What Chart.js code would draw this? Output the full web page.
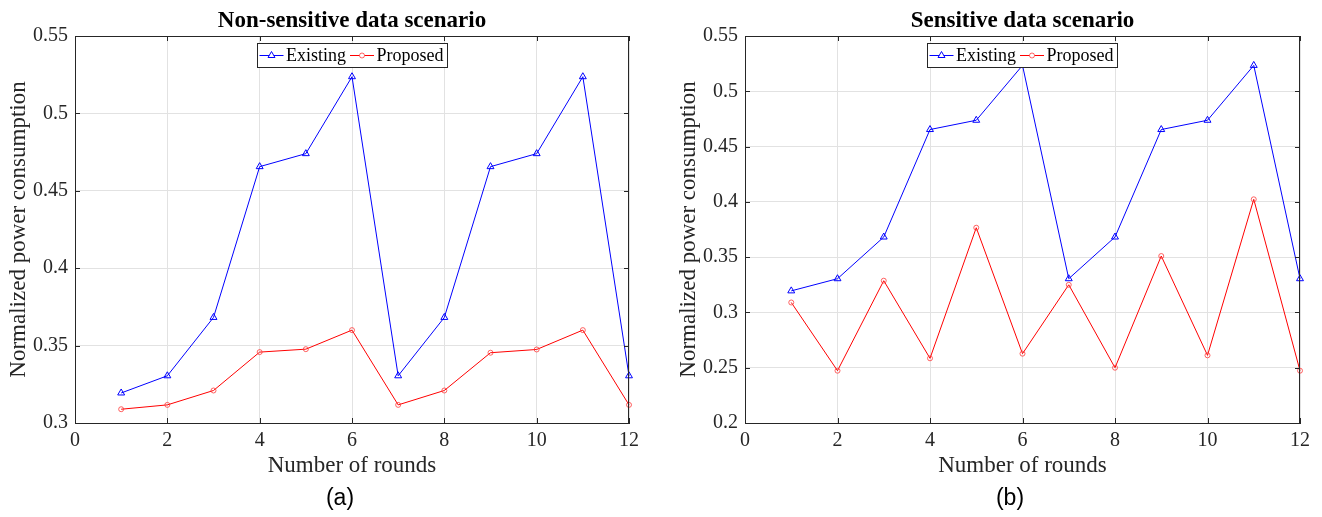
<!DOCTYPE html>
<html><head><meta charset="utf-8">
<script src="https://cdn.jsdelivr.net/npm/chart.js@4/dist/chart.umd.min.js"></script>
<style>
body{margin:0;background:#fff;width:1322px;height:517px;overflow:hidden;position:relative;}
.wrap{position:absolute;top:0;height:517px;}
.cap{position:absolute;top:484px;font-family:'Liberation Sans',Arial,sans-serif;font-size:23px;line-height:26px;color:#000;text-align:center;width:60px;}
</style></head><body>
<div class="wrap" style="left:0;width:660px"><canvas id="c1" width="660" height="517"></canvas></div>
<div class="wrap" style="left:670px;width:652px"><canvas id="c2" width="652" height="517"></canvas></div>
<div class="cap" style="left:310px">(a)</div>
<div class="cap" style="left:980px">(b)</div>
<script>
// ---- data ----
const rounds = [1,2,3,4,5,6,7,8,9,10,11,12];
const existingA = [0.3194,0.3305,0.3682,0.4656,0.4740,0.5237,0.3305,0.3682,0.4656,0.4740,0.5237,0.3305];
const proposedA = [0.3089,0.3117,0.3210,0.3458,0.3477,0.3600,0.3117,0.3210,0.3454,0.3475,0.3600,0.3117];
const existingB = [0.3195,0.3305,0.3682,0.4654,0.4738,0.5234,0.3305,0.3682,0.4654,0.4738,0.5234,0.3305];
const proposedB = [0.3090,0.2473,0.3287,0.2585,0.3766,0.2627,0.3250,0.2500,0.3510,0.2612,0.4023,0.2473];
const xTickVals = [0,2,4,6,8,10,12];
const yTickValsA = [0.3,0.35,0.4,0.45,0.5,0.55];
const yTickValsB = [0.2,0.25,0.3,0.35,0.4,0.45,0.5,0.55];
const titleA = 'Non-sensitive data scenario';
const titleB = 'Sensitive data scenario';
const xLabel = 'Number of rounds';
const yLabel = 'Normalized power consumption';
const seriesNames = ['Existing','Proposed'];

const SERIF = "'Liberation Serif','Times New Roman',serif";
const AXC = '#262626';

const boxPlugin = {
  id:'boxPlugin',
  afterDatasetsDraw(chart){
    const {ctx, chartArea:a, scales:{x,y}} = chart;
    ctx.save();
    ctx.strokeStyle = AXC; ctx.lineWidth = 1;
    ctx.beginPath();
    ctx.moveTo(a.left, a.top+0.5); ctx.lineTo(a.right, a.top+0.5);
    ctx.moveTo(a.right-0.5, a.top); ctx.lineTo(a.right-0.5, a.bottom);
    x.ticks.forEach(t=>{
      const px = Math.round(x.getPixelForValue(t.value))+0.5;
      ctx.moveTo(px,a.bottom); ctx.lineTo(px,a.bottom-5);
      ctx.moveTo(px,a.top); ctx.lineTo(px,a.top+5);
    });
    y.ticks.forEach(t=>{
      const py = Math.round(y.getPixelForValue(t.value))+0.5;
      ctx.moveTo(a.left,py); ctx.lineTo(a.left+5,py);
      ctx.moveTo(a.right,py); ctx.lineTo(a.right-5,py);
    });
    ctx.stroke();
    ctx.restore();
  },
  afterDraw(chart){
    // legend
    const {ctx, chartArea:a} = chart;
    ctx.save();
    ctx.font = '18px ' + SERIF;
    const ds = chart.data.datasets;
    const lineLen = 24, gap = 2.5, itemGap = 4, padL = 2, padR = 4;
    const widths = ds.map(d=>ctx.measureText(d.label).width);
    let total = padL + padR;
    widths.forEach((w,i)=>{ total += lineLen + gap + w + (i<widths.length-1?itemGap:0); });
    const bx = Math.round((a.left+a.right)/2 - total/2)+0.5, by = 43.5, bh = 24;
    ctx.fillStyle = '#fff'; ctx.fillRect(bx,by,total,bh);
    ctx.strokeStyle = AXC; ctx.lineWidth = 1; ctx.strokeRect(bx,by,total,bh);
    let cx = bx + padL;
    const cy = by + bh/2;
    ds.forEach((d,i)=>{
      ctx.strokeStyle = d.borderColor; ctx.lineWidth = 1;
      ctx.beginPath(); ctx.moveTo(cx,cy); ctx.lineTo(cx+lineLen,cy); ctx.stroke();
      const mx = cx + lineLen/2;
      ctx.strokeStyle = d.pointBorderColor; ctx.fillStyle = '#fff';
      ctx.beginPath();
      if (d.pointStyle==='triangle'){
        const r = d.pointRadius;
        let rad = 0;
        ctx.moveTo(mx+Math.sin(rad)*r, cy-Math.cos(rad)*r);
        rad += 2*Math.PI/3; ctx.lineTo(mx+Math.sin(rad)*r, cy-Math.cos(rad)*r);
        rad += 2*Math.PI/3; ctx.lineTo(mx+Math.sin(rad)*r, cy-Math.cos(rad)*r);
        ctx.closePath();
      } else {
        ctx.arc(mx,cy,d.pointRadius,0,Math.PI*2);
      }
      ctx.fill(); ctx.stroke();
      cx += lineLen + gap;
      ctx.fillStyle = '#000'; ctx.textBaseline = 'middle'; ctx.textAlign='left';
      ctx.fillText(d.label, cx, cy+1);
      cx += widths[i] + itemGap;
    });
    ctx.restore();
  }
};

function makeChart(id, title, existing, proposed, yMin, yMax, yTicks, rightPad){
  return new Chart(document.getElementById(id), {
    type:'line',
    data:{datasets:[
      {label:seriesNames[0], data:rounds.map((r,i)=>({x:r,y:existing[i]})),
       borderColor:'#0000ff', borderWidth:1, pointStyle:'triangle', pointRadius:4,
       pointBorderColor:'#0000ff', pointBackgroundColor:'rgba(255,255,255,0)', pointBorderWidth:1,
       tension:0, fill:false, clip:false},
      {label:seriesNames[1], data:rounds.map((r,i)=>({x:r,y:proposed[i]})),
       borderColor:'#ff0000', borderWidth:1, pointStyle:'circle', pointRadius:2.5,
       pointBorderColor:'rgba(255,60,60,0.8)', pointBackgroundColor:'rgba(255,255,255,0)', pointBorderWidth:1,
       tension:0, fill:false, clip:false}
    ]},
    options:{
      responsive:false, animation:false, devicePixelRatio:1,
      layout:{padding:{left:0,top:0,right:rightPad,bottom:0}},
      plugins:{
        legend:{display:false}, tooltip:{enabled:false},
        title:{display:true, text:title, fullSize:false, color:'#000',
          font:{family:SERIF, size:23, weight:'bold', lineHeight:1.2},
          padding:{top:7,bottom:1.4}}
      },
      scales:{
        x:{type:'linear', min:0, max:12,
          afterBuildTicks:s=>{ s.ticks = xTickVals.map(v=>({value:v})); },
          afterFit:s=>{ s.height = 94; },
          ticks:{color:AXC, font:{family:SERIF,size:20}, padding:6, maxRotation:0, callback:v=>String(v)},
          grid:{color:'#e2e2e2', lineWidth:1, drawTicks:false},
          border:{display:true, color:AXC, width:1},
          title:{display:true, text:xLabel, color:AXC, font:{family:SERIF,size:23,lineHeight:1.2}, padding:{top:0,bottom:37.5}}
        },
        y:{type:'linear', min:yMin, max:yMax,
          afterBuildTicks:s=>{ s.ticks = yTicks.map(v=>({value:v})); },
          afterFit:s=>{ s.width = 75; },
          ticks:{color:AXC, font:{family:SERIF,size:20}, padding:7, callback:v=>String(v)},
          grid:{color:'#e2e2e2', lineWidth:1, drawTicks:false},
          border:{display:true, color:AXC, width:1},
          title:{display:true, text:yLabel, color:AXC, font:{family:SERIF,size:23,lineHeight:1.2}, padding:{top:5,bottom:0}}
        }
      }
    },
    plugins:[boxPlugin]
  });
}
makeChart('c1', titleA, existingA, proposedA, 0.3, 0.55, yTickValsA, 31);
makeChart('c2', titleB, existingB, proposedB, 0.2, 0.55, yTickValsB, 22);
</script>
</body></html>
